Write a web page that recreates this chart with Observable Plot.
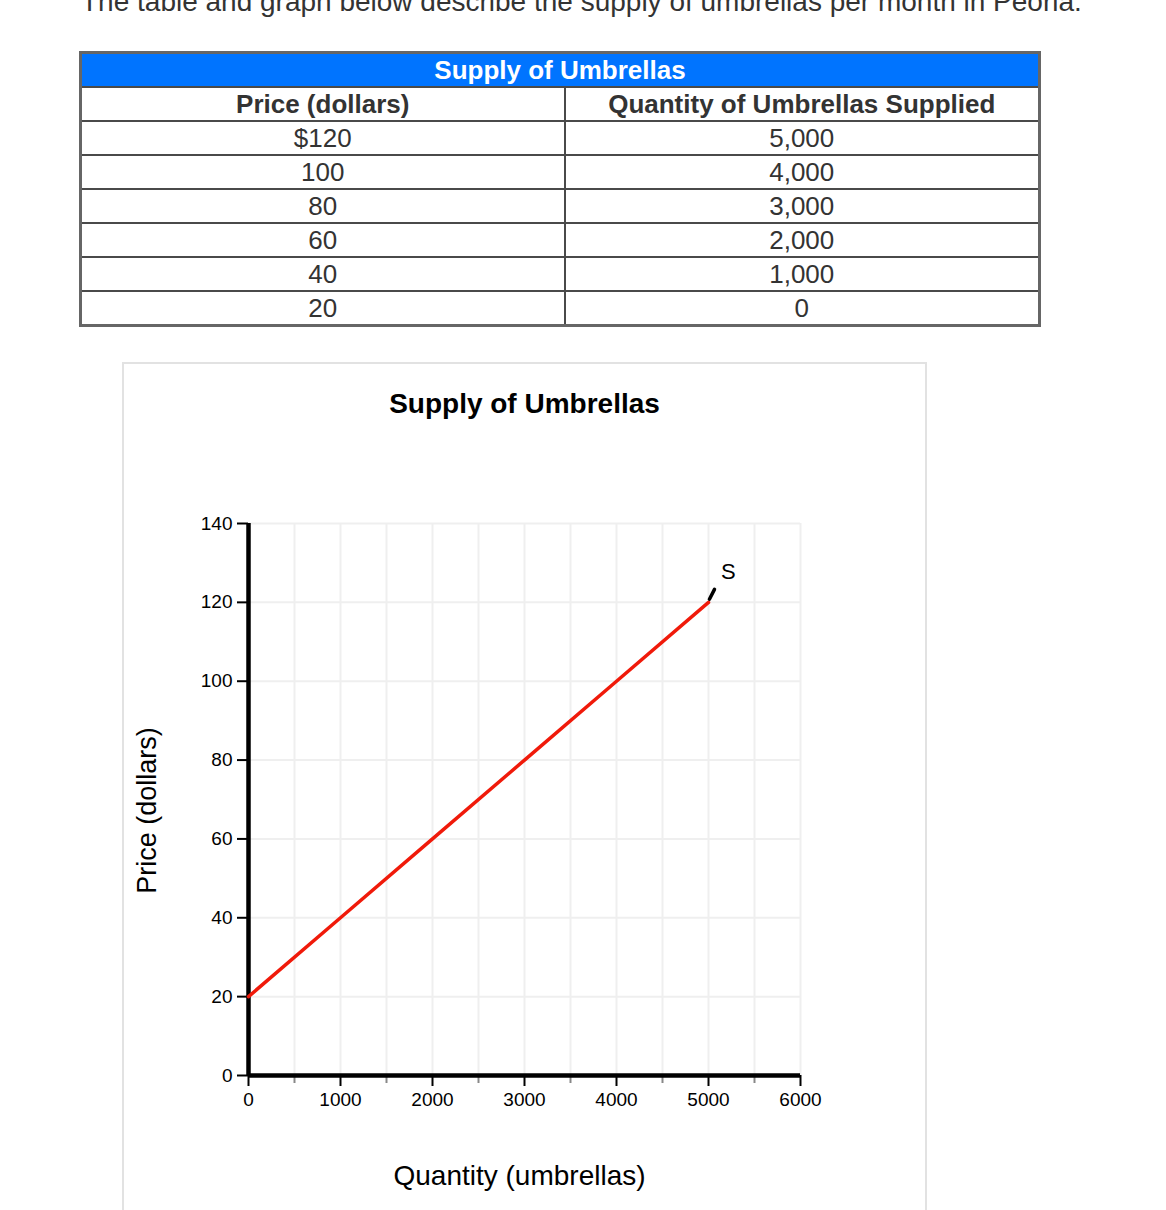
<!DOCTYPE html>
<html>
<head>
<meta charset="utf-8">
<script src="https://cdn.jsdelivr.net/npm/d3@7"></script>
<script src="https://cdn.jsdelivr.net/npm/@observablehq/plot@0.6"></script>
<style>
  html, body { margin: 0; padding: 0; background: #fff; }
  body { width: 1166px; height: 1210px; position: relative; overflow: hidden; font-family: "Liberation Sans", Arial, Helvetica, sans-serif; }
  #intro { position: absolute; left: 81px; top: -12px; font-size: 28px; line-height: 28px; color: #333; white-space: nowrap; }
  table.supply { position: absolute; left: 79px; top: 51px; width: 962px; border-collapse: collapse; border: 3px solid #666; color: #333; }
  table.supply td, table.supply th { border: 2px solid #4a4a4a; padding: 0; height: 32px; line-height: 32px; font-size: 26px; text-align: center; }
  table.supply th.title { background: #0074ff; color: #fff; font-weight: bold; }
  table.supply th.head { font-weight: bold; }
  #panel { position: absolute; left: 122px; top: 362px; width: 801px; height: 900px; border: 2px solid #e2e2e2; }
  #ctitle { position: absolute; left: 122px; width: 805px; top: 389px; text-align: center; font-size: 28px; font-weight: bold; color: #000; line-height: 30px; }
  #chart { position: absolute; left: 124px; top: 470px; }
</style>
</head>
<body>
<div id="intro">The table and graph below describe the supply of umbrellas per month in Peoria.</div>
<table class="supply" id="tbl"></table>
<div id="panel"></div>
<div id="ctitle">Supply of Umbrellas</div>
<div id="chart"></div>
<script>
// Data
const tableTitle = "Supply of Umbrellas";
const columnHeaders = ["Price (dollars)", "Quantity of Umbrellas Supplied"];
const priceLabels = ["$120", "100", "80", "60", "40", "20"];
const quantityLabels = ["5,000", "4,000", "3,000", "2,000", "1,000", "0"];
const prices = [20, 40, 60, 80, 100, 120];
const quantities = [0, 1000, 2000, 3000, 4000, 5000];
const xTicks = [0, 1000, 2000, 3000, 4000, 5000, 6000];
const xMinorTicks = [500, 1500, 2500, 3500, 4500, 5500];
const yTicks = [0, 20, 40, 60, 80, 100, 120, 140];
const xGrid = [500, 1000, 1500, 2000, 2500, 3000, 3500, 4000, 4500, 5000, 5500, 6000];
const yGrid = [20, 40, 60, 80, 100, 120, 140];
const curveLabel = {q: 5217, p: 127.6, text: "S"};
const labelLeader = [{q: 5010, p: 120.8}, {q: 5065, p: 123.3}];

// Table
const tbl = document.getElementById("tbl");
let html = `<colgroup><col style="width:484px"><col></colgroup>`;
html += `<tr><th class="title" colspan="2">${tableTitle}</th></tr>`;
html += `<tr><th class="head">${columnHeaders[0]}</th><th class="head">${columnHeaders[1]}</th></tr>`;
priceLabels.forEach((p, i) => { html += `<tr><td>${p}</td><td>${quantityLabels[i]}</td></tr>`; });
tbl.innerHTML = html;

// Chart
const supply = quantities.map((q, i) => ({q, p: prices[i]}));
const plain = d => String(d);
const chart = Plot.plot({
  width: 801,
  height: 740,
  marginLeft: 124,
  marginRight: 125,
  marginTop: 53,
  marginBottom: 135,
  style: {fontFamily: "Liberation Sans, Arial, sans-serif", fontSize: "19px", color: "#000", background: "transparent"},
  x: {domain: [0, 6000]},
  y: {domain: [0, 140]},
  marks: [
    Plot.ruleX(xGrid, {stroke: "#efefef", strokeWidth: 2}),
    Plot.ruleY(yGrid, {stroke: "#efefef", strokeWidth: 2}),
    Plot.axisX(xMinorTicks, {tickSize: 8, stroke: "#888", strokeWidth: 2, text: null, label: null}),
    Plot.axisX(xTicks, {tickSize: 11, tickPadding: 6, stroke: "#000", strokeWidth: 2, fontSize: 19, label: null, fill: "#000", tickFormat: plain}),
    Plot.axisY(yTicks, {tickSize: 11, tickPadding: 5, stroke: "#000", strokeWidth: 2, fontSize: 19, label: null, fill: "#000", tickFormat: plain}),
    Plot.ruleX([0], {stroke: "#000", strokeWidth: 4.5, y1: 0, y2: 140}),
    Plot.ruleY([0], {stroke: "#000", strokeWidth: 4.5, x1: 0, x2: 6000}),
    Plot.line(supply, {x: "q", y: "p", stroke: "#f01a0a", strokeWidth: 3.5}),
    Plot.line(labelLeader, {x: "q", y: "p", stroke: "#000", strokeWidth: 3.5}),
    Plot.text([curveLabel], {x: "q", y: "p", text: "text", fontSize: 22, fill: "#000"}),
    Plot.text(["Price (dollars)"], {frameAnchor: "left", textAnchor: "middle", lineAnchor: "middle", rotate: -90, dx: -101, dy: 11, fontSize: 27, fill: "#000"}),
    Plot.text(["Quantity (umbrellas)"], {frameAnchor: "bottom", textAnchor: "middle", lineAnchor: "middle", dx: -5, dy: 101, fontSize: 28, fill: "#000"})
  ]
});
document.getElementById("chart").appendChild(chart);
</script>
</body>
</html>
